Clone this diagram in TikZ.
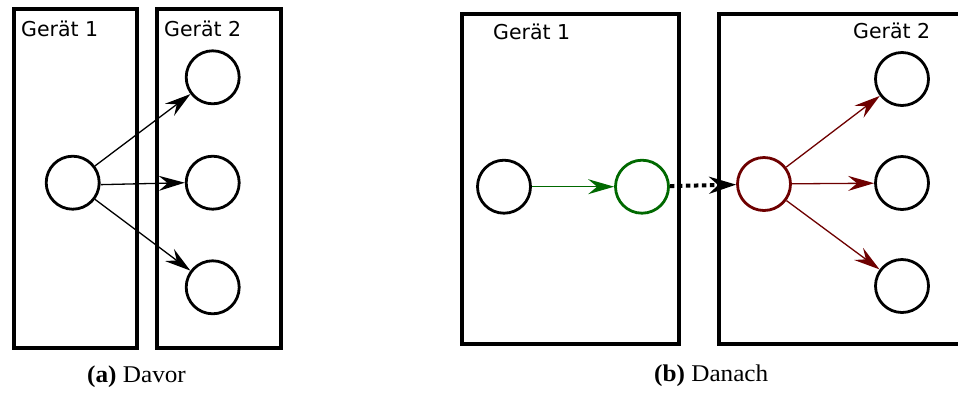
\documentclass[tikz,border=0pt]{standalone}
\usepackage{fontspec}
\usepackage{graphicx}
\setmainfont{Liberation Serif}
\newfontfamily\devfont{DejaVu Sans}
\usetikzlibrary{arrows.meta}

\definecolor{fwdgreen}{RGB}{0,105,0}
\definecolor{fwdred}{RGB}{110,0,0}

\tikzset{
  device/.style={line width=4pt},
  devlabel/.style={anchor=base west, inner sep=0pt,
    font=\devfont\fontsize{20.5}{24}\selectfont},
  proc/.style={circle, draw, line width=2.8pt, minimum size=53pt, inner sep=0pt},
  link/.style={line width=1.3pt, -{Stealth[length=26pt,width=15pt,inset=9pt]}},
  handover/.style={line width=4pt, dash pattern=on 4.5pt off 3.5pt,
    -{Stealth[length=27pt,width=17pt,inset=9pt]}},
  subcap/.style={anchor=base west, inner sep=0pt,
    font=\fontsize{24}{28}\selectfont}
}

\begin{document}
\begin{tikzpicture}[x=1pt, y=-1pt]
  \useasboundingbox (0,0) rectangle (958,392);
  \clip (0,0) rectangle (958,392);

  % ---------- (a) before ----------
  \draw[device] (13.7,9) rectangle (137,348.3);
  \draw[device] (157,9) rectangle (281,348.3);
  \node[devlabel] (a-lab1) at (21,36.7) {Gerät 1};
  \node[devlabel] (a-lab2) at (164,36.7) {Gerät 2};

  \node[proc] (a-src) at (72.7,182.7) {};
  \node[proc] (a-t)   at (212.7,77.3) {};
  \node[proc] (a-m)   at (212.7,182.7) {};
  \node[proc] (a-b)   at (212.7,287.3) {};

  \draw[link] (a-src) -- (a-t);
  \draw[link] (a-src.-4) -- (a-m.west);
  \draw[link] (a-src) -- (a-b);

  \node[subcap] (cap-a) at (87,382) {\scalebox{1.05}[1]{\textbf{(a)} Davor}};

  % ---------- (b) after ----------
  \draw[device] (461.7,13.5) rectangle (678.7,344.3);
  \draw[device] (719,13.5) rectangle (966,344.3);
  \node[devlabel] (b-lab1) at (493,39) {Gerät 1};
  \node[devlabel] (b-lab2) at (853,38) {Gerät 2};

  \node[proc] (b-src)   at (504,186.7) {};
  \node[proc, draw=fwdgreen] (b-proxy) at (642,186.7) {};
  \node[proc, draw=fwdred]   (b-recv)  at (764,184) {};
  \node[proc] (b-t) at (902,79) {};
  \node[proc] (b-m) at (902,183) {};
  \node[proc] (b-b) at (902,286) {};

  \draw[link, fwdgreen] (b-src) -- (b-proxy);
  \draw[handover] (b-proxy) -- (b-recv);
  \draw[link, fwdred] (b-recv) -- (b-t);
  \draw[link, fwdred] (b-recv) -- (b-m);
  \draw[link, fwdred] (b-recv) -- (b-b);

  \node[subcap] (cap-b) at (654,381) {\scalebox{1.05}[1]{\textbf{(b)} Danach}};
\end{tikzpicture}
\end{document}
